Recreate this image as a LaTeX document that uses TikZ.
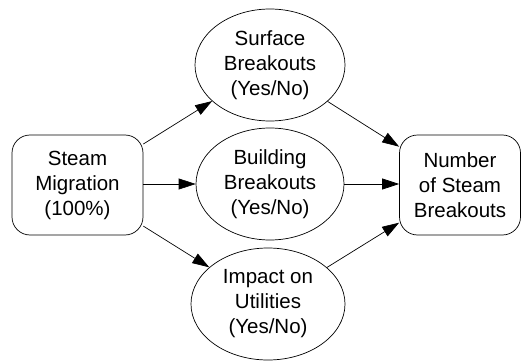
\documentclass[tikz,border=0pt]{standalone}
\usepackage{fontspec}
\setmainfont{Liberation Sans}
\usetikzlibrary{arrows.meta,shapes.geometric}
\begin{document}
\begin{tikzpicture}[x=1pt,y=-1pt,
  every node/.style={font=\fontsize{20.5}{25}\selectfont, align=center, inner sep=0pt},
  boxnode/.style={draw, line width=0.7pt, rounded corners=18pt, minimum width=131pt, minimum height=100pt},
  ellnode/.style={draw, ellipse, line width=0.7pt, minimum width=150pt, minimum height=112pt},
  conn/.style={line width=0.7pt, -{Triangle[length=17pt,width=11pt]}}]
\useasboundingbox (0,0) rectangle (522,361);
\node[boxnode] (steam) at (77.5,185) {Steam\\Migration\\(100\%)};
\node[boxnode, minimum width=121pt] (num) at (460,185) {Number\\of Steam\\Breakouts};
\node[ellnode] (surf) at (270,65) {Surface\\Breakouts\\(Yes/No)};
\node[ellnode, minimum width=148pt] (build) at (270,184) {Building\\Breakouts\\(Yes/No)};
\node[ellnode, minimum width=154pt] (imp) at (268,304) {Impact on\\Utilities\\(Yes/No)};
\draw[conn] (steam) -- (surf);
\draw[conn] (steam.east |- build) -- (build);
\draw[conn] (steam) -- (imp);
\draw[conn] (surf) -- (num);
\draw[conn] (build) -- (num.west |- build);
\draw[conn] (imp) -- (num);
\end{tikzpicture}
\end{document}
